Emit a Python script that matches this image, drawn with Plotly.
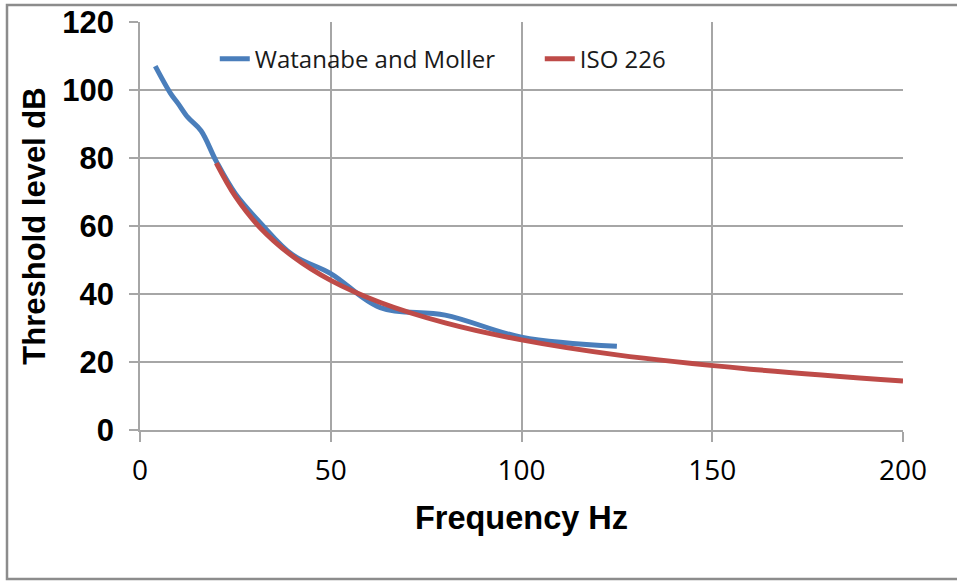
import plotly.graph_objects as go

# Data
wm_freq = [4, 8, 10, 12.5, 16, 20, 25, 31.5, 40, 50, 63, 80, 100, 125]
wm_db = [107, 99, 96, 92, 88, 79, 69.5, 61, 51.5, 46, 36, 33.8, 27.3, 24.6]

iso_freq = [20, 25, 31.5, 40, 50, 63, 80, 100, 125, 160, 200]
iso_db = [78.5, 68.7, 59.5, 51.1, 44.0, 37.5, 31.5, 26.5, 22.1, 17.9, 14.4]

x_ticks = [0, 50, 100, 150, 200]
y_ticks = [0, 20, 40, 60, 80, 100, 120]

grid = "#A6A6A6"

fig = go.Figure()
fig.add_trace(go.Scatter(x=wm_freq, y=wm_db, mode="lines", name="Watanabe and Moller",
                         line=dict(color="#4A7EBB", width=5, shape="spline")))
fig.add_trace(go.Scatter(x=iso_freq, y=iso_db, mode="lines", name="ISO 226",
                         line=dict(color="#BE4B48", width=5, shape="spline")))

fig.update_layout(
    width=957, height=581,
    margin=dict(l=140, r=54, t=22, b=151, autoexpand=False),
    paper_bgcolor="white", plot_bgcolor="white",
    showlegend=True,
    legend=dict(orientation="h", x=0.098, xanchor="left", y=0.909, yanchor="middle",
                font=dict(family="Open Sans", size=24, color="#1a1a1a"),
                bgcolor="rgba(0,0,0,0)", entrywidth=280, entrywidthmode="pixels"),
    xaxis=dict(range=[0, 200], tickvals=x_ticks, showgrid=True, gridcolor=grid, gridwidth=1.5,
               showline=True, linecolor=grid, linewidth=1.5, zeroline=False, automargin=False,
               ticks="outside", ticklen=10, tickcolor=grid, tickwidth=1.5, ticklabelstandoff=5,
               tickfont=dict(family="Open Sans", size=28, color="black"),
               title=dict(text="<b>Frequency Hz</b>", font=dict(family="Liberation Sans", size=32.5, color="black"),
                          standoff=19)),
    yaxis=dict(range=[0, 120], tickvals=y_ticks, showgrid=True, gridcolor=grid, gridwidth=1.5,
               showline=True, linecolor=grid, linewidth=1.5, zeroline=False, automargin=False,
               ticks="outside", ticklen=9, tickcolor=grid, tickwidth=1.5, ticklabelstandoff=9,
               tickfont=dict(family="Liberation Sans", size=31, color="black", weight="bold"),
               title=dict(text="<b>Threshold level dB</b>", font=dict(family="Liberation Sans", size=31, color="black"),
                          standoff=7)),
    shapes=[dict(type="rect", xref="paper", yref="paper",
                 x0=(7 - 140) / 763, x1=(965 - 140) / 763,
                 y0=(430 - 579) / 408, y1=(430 - 5) / 408,
                 line=dict(color="#8C8C8C", width=2.5), fillcolor="rgba(0,0,0,0)", layer="below")],
)

fig.write_html("out.html", config={"displayModeBar": False},
               post_script="document.body.style.margin='0';")
